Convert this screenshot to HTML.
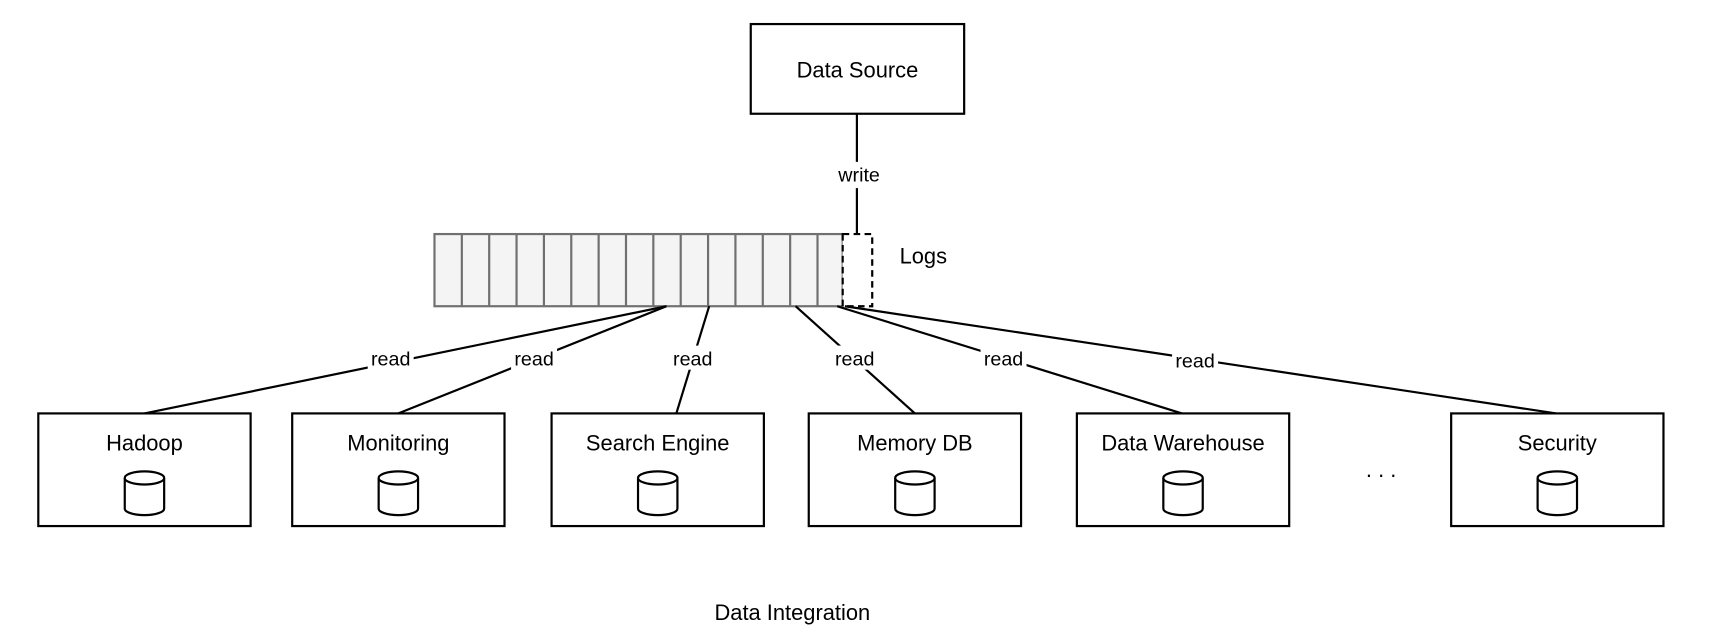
<!DOCTYPE html>
<html><head><meta charset="utf-8"><style>
html,body{margin:0;padding:0;background:#fff;}
svg{display:block;}
text{font-family:"Liberation Sans",Arial,sans-serif;fill:#000;}
</style></head><body>
<svg width="1716" height="642" viewBox="0 0 1568 587" preserveAspectRatio="none" xmlns="http://www.w3.org/2000/svg">
<rect width="1568" height="587" fill="#fff"/>
<!-- Data source -->
<rect x="686" y="22" width="195" height="82" fill="#fff" stroke="#000" stroke-width="2"/>
<text x="783.5" y="71" font-size="20" text-anchor="middle">Data Source</text>
<line x1="783" y1="104" x2="783" y2="214" stroke="#000" stroke-width="2"/>
<rect x="762" y="148" width="44" height="24" fill="#fff"/>
<text x="785" y="166" font-size="18" text-anchor="middle">write</text>
<!-- logs -->
<g fill="#f4f4f4" stroke="#707070" stroke-width="2">
<rect x="397" y="214" width="373" height="66"/>
</g>
<g stroke="#707070" stroke-width="2">
<line x1="422" y1="214" x2="422" y2="280"/><line x1="447" y1="214" x2="447" y2="280"/>
<line x1="472" y1="214" x2="472" y2="280"/><line x1="497" y1="214" x2="497" y2="280"/>
<line x1="522" y1="214" x2="522" y2="280"/><line x1="547" y1="214" x2="547" y2="280"/>
<line x1="572" y1="214" x2="572" y2="280"/><line x1="597" y1="214" x2="597" y2="280"/>
<line x1="622" y1="214" x2="622" y2="280"/><line x1="647" y1="214" x2="647" y2="280"/>
<line x1="672" y1="214" x2="672" y2="280"/><line x1="697" y1="214" x2="697" y2="280"/>
<line x1="722" y1="214" x2="722" y2="280"/><line x1="747" y1="214" x2="747" y2="280"/>
</g>
<rect x="770" y="214" width="27" height="66" fill="#fff" stroke="#000" stroke-width="2" stroke-dasharray="6,4"/>
<text x="822" y="241" font-size="20">Logs</text>
<!-- read lines -->
<g stroke="#000" stroke-width="2">
<line x1="132" y1="378" x2="609" y2="280"/>
<line x1="364" y1="378" x2="609" y2="280"/>
<line x1="618" y1="378" x2="648" y2="280"/>
<line x1="836" y1="378" x2="727" y2="280"/>
<line x1="1080" y1="378" x2="765" y2="280"/>
<line x1="1422" y1="378" x2="772" y2="280"/>
</g>
<g font-size="18" text-anchor="middle">
<rect x="336" y="316" width="42" height="22" fill="#fff"/><text x="357" y="334">read</text>
<rect x="467" y="316" width="42" height="22" fill="#fff"/><text x="488" y="334">read</text>
<rect x="612" y="316" width="42" height="22" fill="#fff"/><text x="633" y="334">read</text>
<rect x="760" y="316" width="42" height="22" fill="#fff"/><text x="781" y="334">read</text>
<rect x="896" y="316" width="42" height="22" fill="#fff"/><text x="917" y="334">read</text>
<rect x="1071" y="318" width="42" height="22" fill="#fff"/><text x="1092" y="336">read</text>
</g>
<!-- boxes -->
<g fill="#fff" stroke="#000" stroke-width="2">
<rect x="35" y="378" width="194" height="103"/>
<rect x="267" y="378" width="194" height="103"/>
<rect x="504" y="378" width="194" height="103"/>
<rect x="739" y="378" width="194" height="103"/>
<rect x="984" y="378" width="194" height="103"/>
<rect x="1326" y="378" width="194" height="103"/>
</g>
<g font-size="20" text-anchor="middle">
<text x="132" y="412">Hadoop</text>
<text x="364" y="412">Monitoring</text>
<text x="601" y="412">Search Engine</text>
<text x="836" y="412">Memory DB</text>
<text x="1081" y="412">Data Warehouse</text>
<text x="1423" y="412">Security</text>
</g>
<defs>
<g id="cyl" fill="#fff" stroke="#000" stroke-width="2">
<path d="M-18,-14 L-18,14 A18,6 0 0 0 18,14 L18,-14"/>
<ellipse cx="0" cy="-14" rx="18" ry="6"/>
</g>
</defs>
<use href="#cyl" x="132" y="451"/>
<use href="#cyl" x="364" y="451"/>
<use href="#cyl" x="601" y="451"/>
<use href="#cyl" x="836" y="451"/>
<use href="#cyl" x="1081" y="451"/>
<use href="#cyl" x="1423" y="451"/>
<text x="1262" y="436" font-size="20" text-anchor="middle">. . .</text>
<text x="724" y="567" font-size="20" text-anchor="middle">Data Integration</text>
</svg>
</body></html>
